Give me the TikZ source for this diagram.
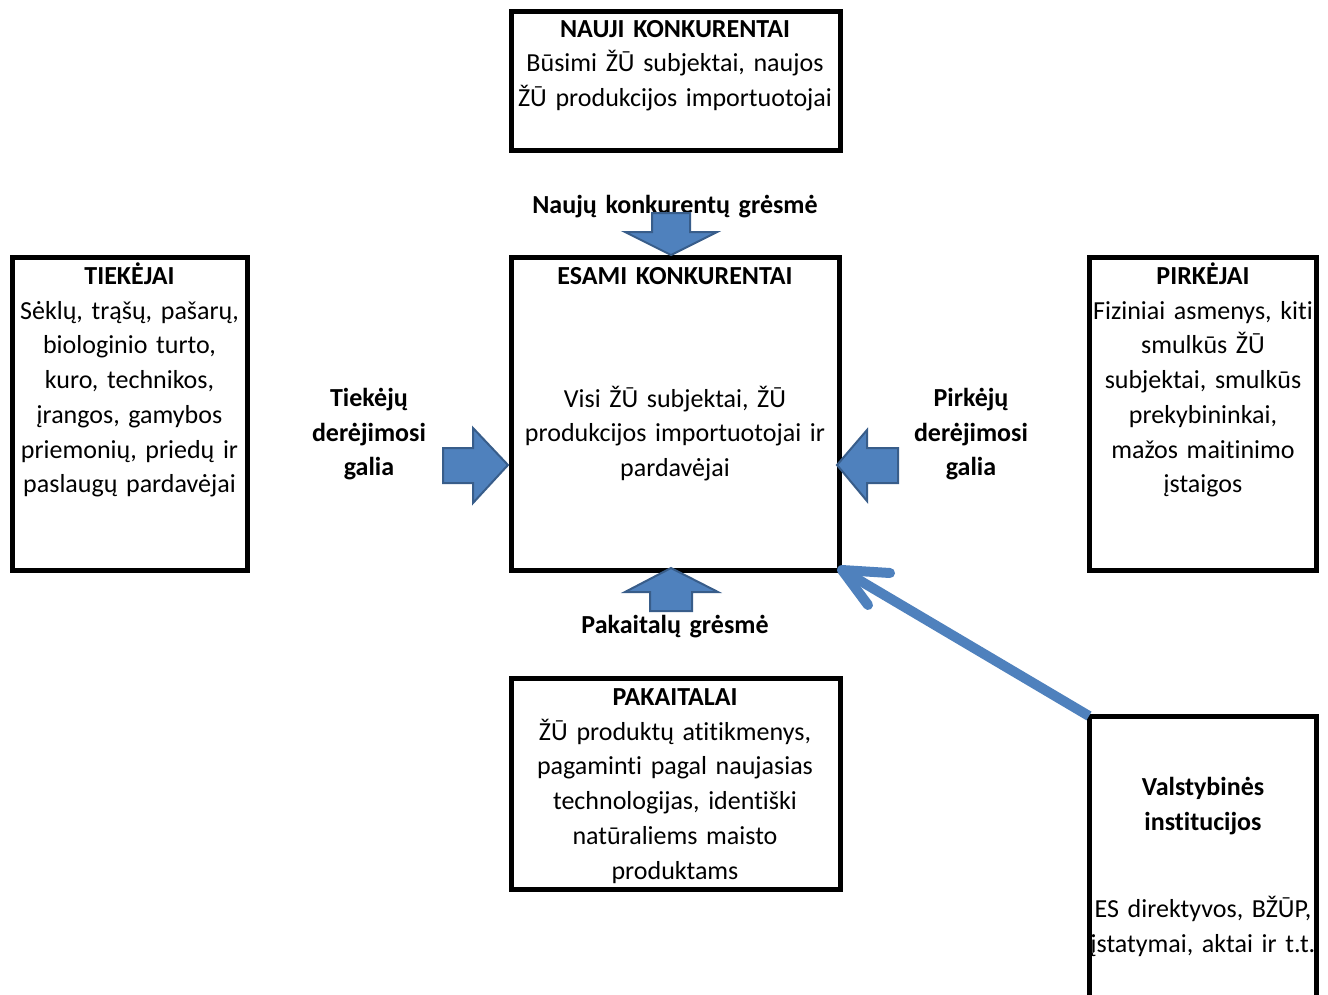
\documentclass[tikz,border=0pt]{standalone}
\usepackage{fontspec}
\setmainfont{Carlito}[Ligatures=TeX, RawFeature={-liga;-clig;-calt;-dlig}]
\usetikzlibrary{calc}
\definecolor{arrfill}{RGB}{79,129,189}
\definecolor{arrline}{RGB}{56,93,138}
\begin{document}
\begin{tikzpicture}[x=1pt,y=-1pt,
  box/.style={draw=black, line width=5pt, rectangle, inner sep=0pt, outer sep=0pt},
  txt/.style={font=\fontsize{26}{34.7}\selectfont, align=center, inner sep=0pt, text width=340pt, anchor=base},
  btxt/.style={txt, font=\fontsize{26}{34.7}\selectfont\bfseries},
  blockarrow/.style={fill=arrfill, draw=arrline, line width=2pt, line join=miter},
  govarrow/.style={draw=arrfill, line width=10pt}]
\useasboundingbox (0,0) rectangle (1328,994);
\clip (0,0) rectangle (1328,994);
\fill[white] (0,0) rectangle (1328,994);

% boxes
\node[box, minimum width=329pt, minimum height=139pt] (nauji) at (675.5,80.5) {};
\node[box, minimum width=328pt, minimum height=313pt] (esami) at (675,413.5) {};
\node[box, minimum width=235pt, minimum height=313pt] (tiek) at (129.5,413.5) {};
\node[box, minimum width=227pt, minimum height=313pt] (pirk) at (1202.5,413.5) {};
\node[box, minimum width=329pt, minimum height=211pt] (pak) at (675.5,783.5) {};
\node[box, minimum width=227pt, minimum height=304pt] (valst) at (1202.5,868) {};

% texts
\node[txt] (nauji-t) at (675,37) {\textbf{NAUJI KONKURENTAI}\\Būsimi ŽŪ subjektai, naujos\\ŽŪ produkcijos importuotojai};
\node[btxt] (esami-h) at (675,284) {ESAMI KONKURENTAI};
\node[txt] (esami-t) at (675,407) {Visi ŽŪ subjektai, ŽŪ\\produkcijos importuotojai ir\\pardavėjai};
\node[txt] (tiek-t) at (129.5,284.5) {\textbf{TIEKĖJAI}\\Sėklų, trąšų, pašarų,\\biologinio turto,\\kuro, technikos,\\įrangos, gamybos\\priemonių, priedų ir\\paslaugų pardavėjai};
\node[txt] (pirk-t) at (1203,284.5) {\textbf{PIRKĖJAI}\\Fiziniai asmenys, kiti\\smulkūs ŽŪ\\subjektai, smulkūs\\prekybininkai,\\mažos maitinimo\\įstaigos};
\node[txt] (pak-t) at (675,705.5) {\textbf{PAKAITALAI}\\ŽŪ produktų atitikmenys,\\pagaminti pagal naujasias\\technologijas, identiški\\natūraliems maisto\\produktams};
\node[btxt] (valst-h) at (1203,795.5) {Valstybinės\\institucijos};
\node[txt] (valst-t) at (1203,917.5) {ES direktyvos, BŽŪP,\\įstatymai, aktai ir t.t.};

\node[btxt] (l-nauj) at (675,213) {Naujų konkurentų grėsmė};
\node[btxt] (l-tiek) at (369,406.5) {Tiekėjų\\derėjimosi\\galia};
\node[btxt] (l-pirk) at (971,406.5) {Pirkėjų\\derėjimosi\\galia};
\node[btxt] (l-pak) at (675,633) {Pakaitalų grėsmė};

% block arrows
\draw[blockarrow] (652,213) -- (690,213) -- (690,232) -- (717,232) -- (671,255) -- (625,232) -- (652,232) -- cycle;
\draw[blockarrow] (650,611) -- (692,611) -- (692,592) -- (718,592) -- (671,568) -- (625,592) -- (650,592) -- cycle;
\draw[blockarrow] (443,448) -- (473,448) -- (473,428) -- (508,465) -- (473,503) -- (473,483) -- (443,483) -- cycle;
\draw[blockarrow] (898,448) -- (867,448) -- (867,430) -- (837,465) -- (867,501) -- (867,483) -- (898,483) -- cycle;

% government arrow
\coordinate (gtip) at ($(esami.south east)+(3,0)$);
\draw[govarrow] (valst.north west) -- (gtip);
\draw[govarrow, line cap=round, line join=round] ($(gtip)+(48,3)$) -- (gtip) -- ($(gtip)+(26,35)$);
\end{tikzpicture}
\end{document}
